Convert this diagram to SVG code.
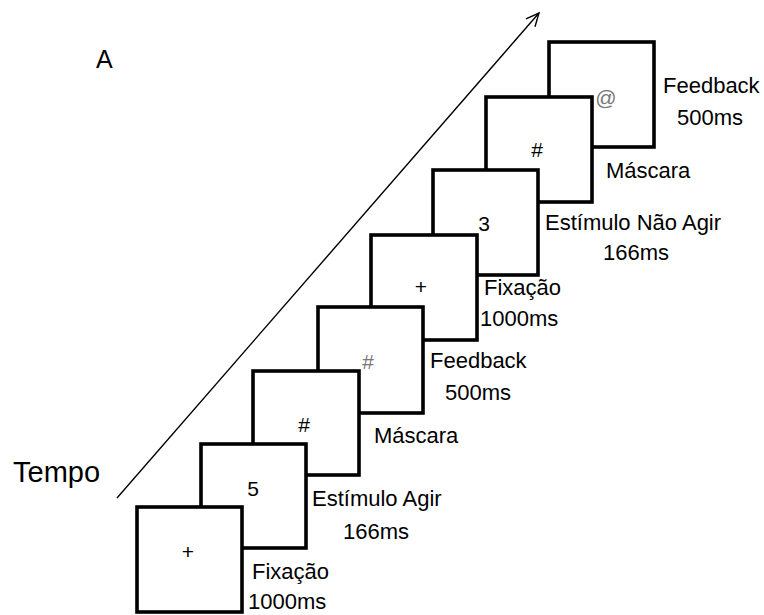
<svg xmlns="http://www.w3.org/2000/svg" width="764" height="615" viewBox="0 0 764 615">
<style>
.box{fill:#fff;stroke:#000;stroke-width:3.6}
.lbl{font-family:"Liberation Sans",Arial,sans-serif;font-size:22px;fill:#000}
.sym{font-family:"Liberation Sans",Arial,sans-serif;font-size:21px;fill:#000;text-anchor:middle}
.gray{fill:#777}
.big{font-family:"Liberation Sans",Arial,sans-serif;font-size:25px;fill:#000}
</style>
<defs>
<marker id="arr" markerUnits="userSpaceOnUse" markerWidth="16" markerHeight="16" refX="14" refY="7" orient="auto" viewBox="0 0 16 14">
<path d="M1,1 L14,7 L1,13" fill="none" stroke="#000" stroke-width="1.4"/>
</marker>
</defs>
<rect width="764" height="615" fill="#fff"/>
<g id="connectors">
<line x1="117" y1="498" x2="539" y2="13" stroke="#000" stroke-width="1.4" marker-end="url(#arr)"/>
</g>
<text class="big" x="96" y="68">A</text>
<text class="big" x="13" y="482" style="font-size:29px">Tempo</text>
<g id="n8"><rect class="box" x="549" y="42" width="105" height="105"/><text class="sym gray" x="606" y="105">@</text>
<text class="lbl" x="663" y="93">Feedback</text><text class="lbl" x="677" y="125">500ms</text></g>
<g id="n7"><rect class="box" x="486" y="97" width="106" height="105"/><text class="sym" x="537" y="157">#</text>
<text class="lbl" x="606" y="178">Máscara</text></g>
<g id="n6"><rect class="box" x="433" y="170" width="105" height="105"/><text class="sym" x="484" y="231">3</text>
<text class="lbl" x="545" y="230">Estímulo Não Agir</text><text class="lbl" x="603" y="260">166ms</text></g>
<g id="n5"><rect class="box" x="371" y="235" width="106" height="105"/><text class="sym" x="421" y="294">+</text>
<text class="lbl" x="484" y="295">Fixação</text><text class="lbl" x="480" y="326">1000ms</text></g>
<g id="n4"><rect class="box" x="318" y="307" width="105" height="106"/><text class="sym gray" x="368" y="369">#</text>
<text class="lbl" x="430" y="368">Feedback</text><text class="lbl" x="445" y="400">500ms</text></g>
<g id="n3"><rect class="box" x="253" y="371" width="106" height="104"/><text class="sym" x="304" y="432">#</text>
<text class="lbl" x="374" y="443">Máscara</text></g>
<g id="n2"><rect class="box" x="201" y="444" width="105" height="104"/><text class="sym" x="253" y="496">5</text>
<text class="lbl" x="312" y="506">Estímulo Agir</text><text class="lbl" x="343" y="539">166ms</text></g>
<g id="n1"><rect class="box" x="137" y="507" width="105" height="105"/><text class="sym" x="188" y="559">+</text>
<text class="lbl" x="252" y="579">Fixação</text><text class="lbl" x="248" y="609">1000ms</text></g>
</svg>
